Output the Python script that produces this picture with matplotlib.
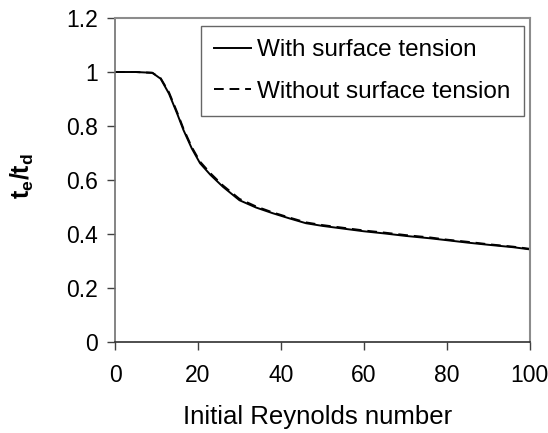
import matplotlib
matplotlib.use('Agg')
import matplotlib.pyplot as plt

plt.rcParams['font.family'] = ['Liberation Sans', 'DejaVu Sans']
plt.rcParams['mathtext.default'] = 'regular'

# Data
re_with = [0, 5, 9, 11, 13, 15, 16.5, 18.5, 20.5, 23, 26, 30, 34, 38, 42, 46,
           50, 55, 60, 65, 70, 76, 80, 85, 90, 96, 100]
ratio_with = [1.0, 1.0, 0.997, 0.975, 0.92, 0.845, 0.785, 0.717, 0.662, 0.619,
              0.575, 0.525, 0.498, 0.477, 0.458, 0.44, 0.43, 0.42, 0.41, 0.402,
              0.393, 0.384, 0.377, 0.368, 0.36, 0.351, 0.343]

re_without = [0, 5, 9, 11, 13, 15, 16.5, 18.5, 20.5, 23, 26, 30, 34, 38, 42, 46,
              50, 55, 60, 65, 70, 76, 80, 85, 90, 96, 100]
ratio_without = [1.0, 1.0, 0.997, 0.977, 0.925, 0.85, 0.79, 0.722, 0.668, 0.625,
                 0.58, 0.53, 0.502, 0.48, 0.461, 0.443, 0.433, 0.423, 0.413, 0.405,
                 0.396, 0.387, 0.379, 0.371, 0.362, 0.353, 0.345]

fig = plt.figure(figsize=(5.48, 4.33), dpi=100)
ax = fig.add_axes([0.2099, 0.2102, 0.757, 0.7482])

ax.plot(re_with, ratio_with, color='black', linewidth=1.4, label='With surface tension')
ax.plot(re_without, ratio_without, color='black', linewidth=1.4, linestyle=(0, (5, 3)),
        label='Without surface tension')

ax.set_xlim(0, 100)
ax.set_ylim(0, 1.2)
ax.set_xticks([0, 20, 40, 60, 80, 100])
ax.set_yticks([0, 0.2, 0.4, 0.6, 0.8, 1.0, 1.2])
ax.set_yticklabels(['0', '0.2', '0.4', '0.6', '0.8', '1', '1.2'])
ax.tick_params(direction='out', length=6, width=1, labelsize=16.5, colors='#404040',
               labelcolor='black')
ax.tick_params(axis='x', pad=10)
ax.tick_params(axis='y', pad=6)

for side in ['top', 'right']:
    ax.spines[side].set_color('#8c8c8c')
    ax.spines[side].set_linewidth(1.5)
ax.spines['left'].set_color('#707070')
ax.spines['left'].set_linewidth(1.2)
ax.spines['bottom'].set_color('#303030')
ax.spines['bottom'].set_linewidth(1.2)

ax.set_xlabel('Initial Reynolds number', fontsize=18.5, va='center')
ax.xaxis.set_label_coords(0.489, -0.231)
ax.set_ylabel('t$_e$/t$_d$', fontsize=18, fontweight='bold', va='center')
ax.yaxis.set_label_coords(-0.224, 0.511)

leg = ax.legend(loc='upper right', bbox_to_anchor=(0.985, 0.975), fontsize=17.5,
                frameon=True, fancybox=False, handlelength=1.5, labelspacing=0.8,
                borderpad=0.55, handletextpad=0.25, borderaxespad=0)
leg.get_frame().set_edgecolor('#404040')
leg.get_frame().set_linewidth(1.0)

fig.savefig('out.png', dpi=100)
